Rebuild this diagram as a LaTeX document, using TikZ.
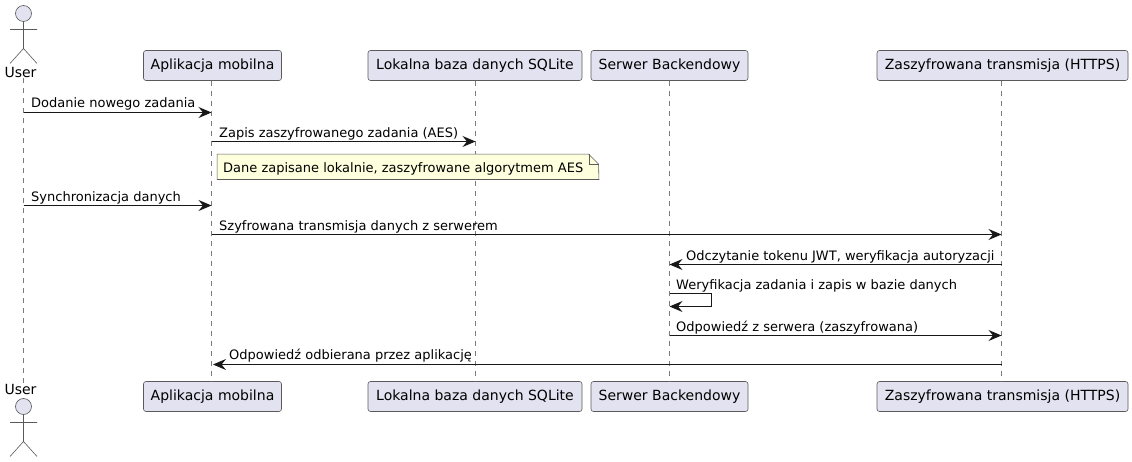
\documentclass[tikz,border=0pt]{standalone}
\usepackage{fontspec}
\setmainfont{DejaVu Sans}
\usetikzlibrary{arrows.meta}

\definecolor{partfill}{HTML}{E2E2F0}
\definecolor{partline}{HTML}{5A5A5A}
\definecolor{msgline}{HTML}{181818}
\definecolor{notefill}{HTML}{FEFFDD}

\tikzset{
  part/.style={draw=partline,line width=0.6pt,fill=partfill,rounded corners=2.5pt,minimum height=30pt,inner sep=0pt,font=\fontsize{14}{16}\selectfont},
  txt/.style={inner sep=0pt,anchor=base west,font=\fontsize{13}{15}\selectfont},
  lifeline/.style={draw=partline!80,line width=0.5pt,dash pattern=on 5pt off 5pt},
  msg/.style={draw=msgline,line width=1pt,-{Stealth[length=13pt,width=11pt,inset=4.5pt]}},
  stick/.style={draw=partline,line width=0.6pt},
  pics/actor/.style={code={
    \draw[stick,fill=partfill] (0,0) circle (8pt);
    \draw[stick] (0,8) -- (0,35) (-13.5,16) -- (13.5,16) (-13.5,50) -- (0,35) -- (13.5,50);
  }}
}

\begin{document}
\begin{tikzpicture}[x=1pt,y=-1pt]
  \useasboundingbox (0,0) rectangle (1132,462);
  \coordinate (userX) at (23.5,0);
  \coordinate (appX) at (211.5,0);
  \coordinate (dbX) at (475.5,0);
  \coordinate (srvX) at (669.5,0);
  \coordinate (httpsX) at (1001.5,0);

  % participants, top row
  \node (userT) [txt,anchor=base,font=\fontsize{14}{16}\selectfont] at (20.5,78) {User};
  \node (appT) [part,minimum width=138pt] at (212.5,65.5) {Aplikacja mobilna};
  \node (dbT) [part,minimum width=214pt] at (475,65.5) {Lokalna baza danych SQLite};
  \node (srvT) [part,minimum width=157pt] at (669.5,65.5) {Serwer Backendowy};
  \node (httpsT) [part,minimum width=251pt] at (1002.5,65.5) {Zaszyfrowana transmisja (HTTPS)};

  % participants, bottom row
  \node (userB) [txt,anchor=base,font=\fontsize{14}{16}\selectfont] at (20.5,394) {User};
  \node (appB) [part,minimum width=138pt] at (212.5,396.5) {Aplikacja mobilna};
  \node (dbB) [part,minimum width=214pt] at (475,396.5) {Lokalna baza danych SQLite};
  \node (srvB) [part,minimum width=157pt] at (669.5,396.5) {Serwer Backendowy};
  \node (httpsB) [part,minimum width=251pt] at (1002.5,396.5) {Zaszyfrowana transmisja (HTTPS)};

  \pic at (23.5,13.5) {actor};
  \pic at (23.5,406.5) {actor};

  % lifelines
  \draw[lifeline] (userX |- userT.south) -- (userX |- userB.north);
  \draw[lifeline] (appX |- appT.south) -- (appX |- appB.north);
  \draw[lifeline] (dbX |- dbT.south) -- (dbX |- dbB.north);
  \draw[lifeline] (srvX |- srvT.south) -- (srvX |- srvB.north);
  \draw[lifeline] (httpsX |- httpsT.south) -- (httpsX |- httpsB.north);

  % messages
  \draw[msg] (userX |- 0,112.5) -- (appX |- 0,112.5);
  \node (m1) [txt] at (31,107.7) {Dodanie nowego zadania};
  \draw[msg] (appX |- 0,141.5) -- (dbX |- 0,141.5);
  \node (m2) [txt] at (219,137.2) {Zapis zaszyfrowanego zadania (AES)};

  % note
  \node (note) [minimum width=381.5pt,minimum height=25pt,inner sep=0pt] at (408,166.8) {};
  \draw[stick,fill=notefill] (note.south west) -- (note.north west) -- ++(371.5,0) -- ++(10,10) -- (note.south east) -- cycle;
  \draw[stick] (note.north east) ++(-10,0) -- ++(0,10) -- ++(10,0);
  \node (notetxt) [txt] at (223,172.7) {Dane zapisane lokalnie, zaszyfrowane algorytmem AES};

  \draw[msg] (userX |- 0,205.5) -- (appX |- 0,205.5);
  \node (m3) [txt] at (31,201.2) {Synchronizacja danych};
  \draw[msg] (appX |- 0,234.5) -- (httpsX |- 0,234.5);
  \node (m4) [txt] at (219,230.2) {Szyfrowana transmisja danych z serwerem};
  \draw[msg] (httpsX |- 0,264.5) -- (srvX |- 0,264.5);
  \node (m5) [txt] at (686,260.2) {Odczytanie tokenu JWT, weryfikacja autoryzacji};
  \draw[msg] (srvX |- 0,293.5) -- (711.5,293.5) -- (711.5,306.5) -- (srvX |- 0,306.5);
  \node (m6) [txt] at (676,289.2) {Weryfikacja zadania i zapis w bazie danych};
  \draw[msg] (srvX |- 0,335.5) -- (httpsX |- 0,335.5);
  \node (m7) [txt] at (676,331.2) {Odpowiedź z serwera (zaszyfrowana)};
  \draw[msg,shorten >=1.5pt] (httpsX |- 0,364.5) -- (appX |- 0,364.5);
  \node (m8) [txt] at (229,359.7) {Odpowiedź odbierana przez aplikację};
\end{tikzpicture}
\end{document}
